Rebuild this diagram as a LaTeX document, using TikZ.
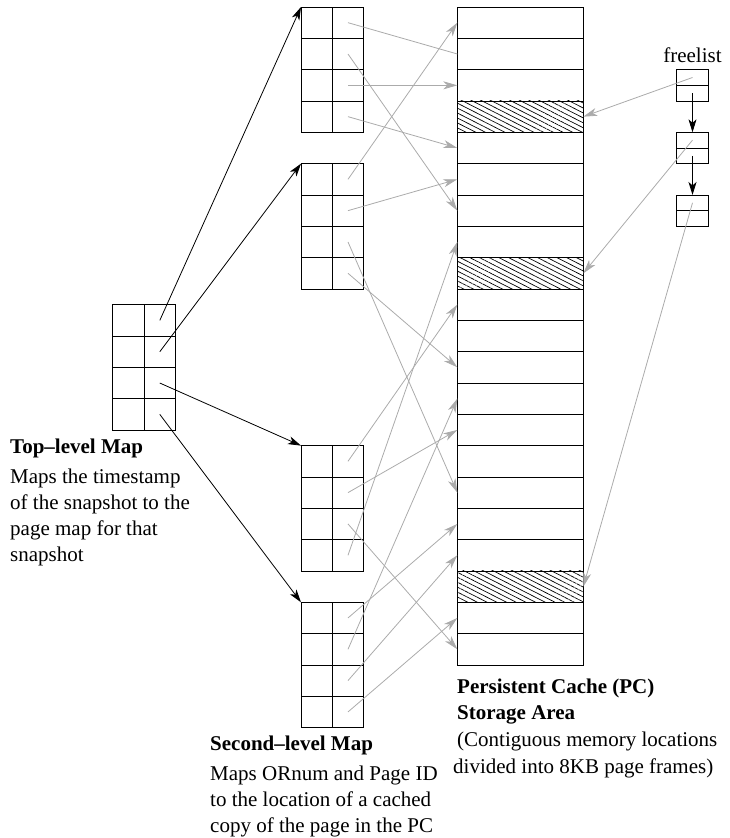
\documentclass[tikz,border=0pt]{standalone}
\usepackage{fontspec}
\setmainfont{Liberation Serif}
\usetikzlibrary{arrows.meta,patterns.meta}

\begin{document}
\begin{tikzpicture}[
  x=1pt, y=-1pt,
  cell/.style  = {draw, line width=0.8pt, inner sep=0pt, outer sep=0pt,
                  minimum width=31.33pt, minimum height=31.33pt},
  frame/.style = {cell, minimum width=126pt},
  half/.style  = {cell, minimum width=31.6pt, minimum height=15.67pt},
  hatch/.style = {pattern={Lines[angle=-27,distance=4.4pt,line width=0.7pt]}},
  ptr/.style   = {line width=0.8pt, -{Stealth[length=13pt,width=8pt,inset=3.5pt]}},
  ref/.style   = {line width=0.8pt, draw=black!33,
                  -{Stealth[length=14pt,width=8pt,inset=4pt]}},
  lbl/.style   = {anchor=base west, inner sep=0pt,
                  font=\fontsize{21pt}{26pt}\selectfont},
]
  \useasboundingbox (0,0) rectangle (730,838);

  % persistent cache: 21 page frames, three of them free
  \foreach \r in {0,...,20}
    \node[frame] (pc-\r) at (520.33, {7+(\r+0.5)*31.33}) {};
  \foreach \r in {3,8,18}{
    \path[hatch] (pc-\r.north west) rectangle (pc-\r.south east);
    \draw[line width=0.8pt] (pc-\r.north west) rectangle (pc-\r.south east);
  }

  % second-level maps
  \foreach \m/\t in {1/0,2/5,3/14,4/19}
    \foreach \r in {0,...,3}{
      \node[cell] (m\m-\r-l) at (316.67, {7+(\t+\r+0.5)*31.33}) {};
      \node[cell] (m\m-\r-r) at (348, {7+(\t+\r+0.5)*31.33}) {};
    }

  % top-level map
  \foreach \r in {0,...,3}{
    \node[cell] (top-\r-l) at (128.5, {304.7+(\r+0.5)*31.33}) {};
    \node[cell] (top-\r-r) at (159.8, {304.7+(\r+0.5)*31.33}) {};
  }

  % freelist
  \foreach \b in {1,2,3}{
    \node[half] (fl\b-a) at (692.5, {7+2*\b*31.33+7.83}) {};
    \node[half] (fl\b-b) at (692.5, {7+2*\b*31.33+23.5}) {};
  }
  \node[lbl, anchor=base] (freelbl) at (692.5, 62) {freelist};

  \foreach \r/\m in {0/1,1/2,2/3,3/4}
    \draw[ptr] (top-\r-r.center) -- (m\m-0-l.north west);
  \draw[ptr] (fl1-b.center) -- (fl2-a.north);
  \draw[ptr] (fl2-b.center) -- (fl3-a.north);

  % map entries point into the cache, free frames are chained
  \draw[ref, -] (m1-0-r.center) -- (pc-1.west);
  \foreach \m/\r/\p in {1/1/6, 1/2/2, 1/3/4, 2/0/0, 2/1/5, 2/2/15, 2/3/11,
                        3/0/9, 3/1/13, 3/2/20, 3/3/7, 4/0/16, 4/1/12, 4/2/17, 4/3/19}
    \draw[ref] (m\m-\r-r.center) -- (pc-\p.west);
  \foreach \b/\p in {1/3, 2/8, 3/18}
    \draw[ref] (fl\b-a.center) -- (pc-\p.east);

  \node[lbl] (toplbl) at (10, 453)
    {\begin{tabular}[t]{@{}l@{}}\textbf{Top--level Map}\\[4pt]Maps the timestamp\\
     of the snapshot to the\\page map for that\\snapshot\end{tabular}};
  \node[lbl] (seclbl) at (210, 750)
    {\begin{tabular}[t]{@{}l@{}}\textbf{Second--level Map}\\[4pt]Maps ORnum and Page ID\\
     to the location of a cached\\copy of the page in the PC\end{tabular}};
  \node[lbl] (pclbl) at (457, 693)
    {\begin{tabular}[t]{@{}l@{}}\textbf{Persistent Cache (PC)}\\[0.7pt]\textbf{Storage Area}\\[0.7pt]
     (Contiguous memory locations\\[0.7pt]\hspace*{-4pt}divided into 8KB page frames)\end{tabular}};
\end{tikzpicture}
\end{document}
